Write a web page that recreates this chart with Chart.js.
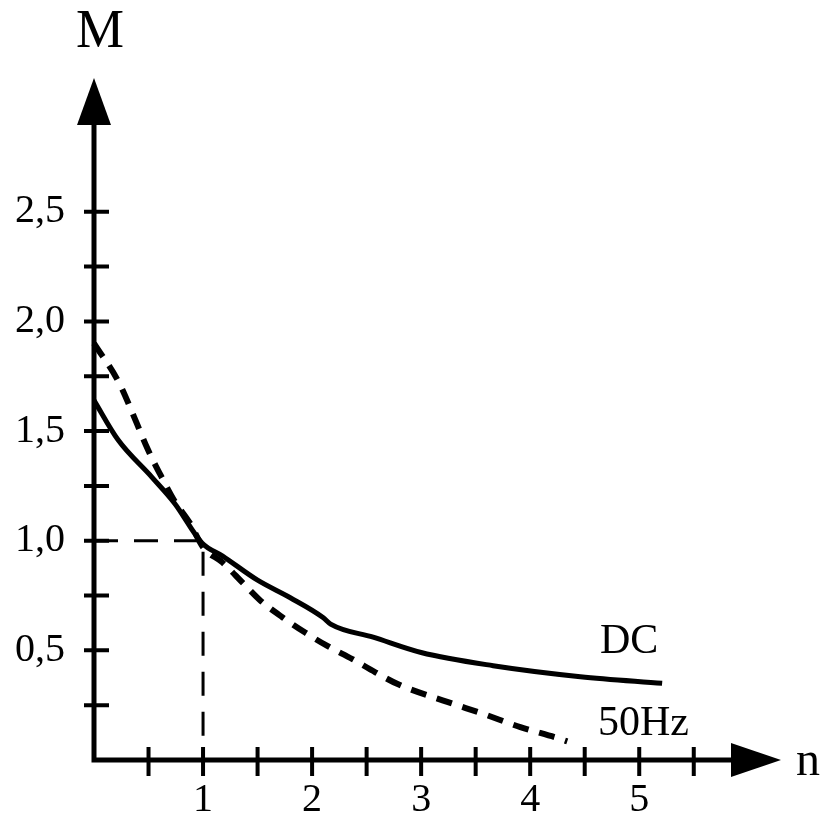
<!DOCTYPE html>
<html>
<head>
<meta charset="utf-8">
<script src="https://cdn.jsdelivr.net/npm/chart.js@4.4.0/dist/chart.umd.min.js"></script>
<style>
  html, body { margin: 0; padding: 0; background: #fff; }
  #wrap { width: 823px; height: 814px; position: relative; }
</style>
</head>
<body>
<div id="wrap"><canvas id="grafico"></canvas></div>
<script>
// Curva DC (linha cheia)
const nDC = [0, 0.22, 0.53, 0.74, 0.99, 1.18, 1.5, 1.8, 2.1, 2.17, 2.56, 3.0, 3.66, 4.46, 5.21];
const mDC = [1.64, 1.46, 1.29, 1.17, 0.99, 0.93, 0.82, 0.74, 0.65, 0.62, 0.56, 0.49, 0.43, 0.38, 0.35];

// Curva 50Hz (tracejada)
const n50 = [0, 0.23, 0.38, 0.49, 0.62, 0.74, 0.88, 1.0, 1.18, 1.36, 1.52, 1.73, 1.94, 2.14, 2.37, 2.58, 2.79, 3.24, 3.57, 3.91, 4.25, 4.34];
const m50 = [1.90, 1.72, 1.55, 1.42, 1.29, 1.18, 1.08, 0.97, 0.90, 0.81, 0.73, 0.65, 0.58, 0.52, 0.46, 0.40, 0.345, 0.265, 0.21, 0.15, 0.10, 0.085];

// Linha guia em n = 1, M = 1
const guideN = [0, 1, 1];
const guideM = [1, 1, 0];

// Rótulos e marcas dos eixos
const xTickValues = [1, 2, 3, 4, 5];
const xTickLabels = ['1', '2', '3', '4', '5'];
const yTickValues = [0.5, 1, 1.5, 2, 2.5];
const yTickLabels = ['0,5', '1,0', '1,5', '2,0', '2,5'];
const xMarks = [0.5, 1, 1.5, 2, 2.5, 3, 3.5, 4, 4.5, 5, 5.5];
const yMarks = [0.25, 0.5, 0.75, 1, 1.25, 1.5, 1.75, 2, 2.25, 2.5];

const toPoints = (xs, ys) => xs.map((v, i) => ({ x: v, y: ys[i] }));

Chart.defaults.font.family = "'Liberation Serif', serif";
Chart.defaults.color = '#000';

// Desenha eixos com setas, marcas e textos
const axesPlugin = {
    id: 'axes',
    afterDatasetsDraw(chart) {
        const { ctx, chartArea: a, scales: { x, y } } = chart;
        const x0 = x.getPixelForValue(0);
        const y0 = y.getPixelForValue(0);
        ctx.save();
        ctx.strokeStyle = '#000';
        ctx.fillStyle = '#000';
        ctx.lineCap = 'butt';

        ctx.lineWidth = 5;
        ctx.beginPath();
        ctx.moveTo(x0, y0 + 2.5);
        ctx.lineTo(x0, a.top + 40);
        ctx.moveTo(x0 - 2.5, y0);
        ctx.lineTo(a.right - 40, y0);
        ctx.stroke();

        ctx.beginPath();
        ctx.moveTo(x0, a.top);
        ctx.lineTo(x0 - 17, a.top + 47);
        ctx.lineTo(x0 + 17, a.top + 47);
        ctx.closePath();
        ctx.fill();

        ctx.beginPath();
        ctx.moveTo(a.right, y0);
        ctx.lineTo(a.right - 50, y0 - 17);
        ctx.lineTo(a.right - 50, y0 + 17);
        ctx.closePath();
        ctx.fill();

        ctx.lineWidth = 4;
        ctx.beginPath();
        for (const v of yMarks) {
            const py = y.getPixelForValue(v);
            ctx.moveTo(x0 - 10, py);
            ctx.lineTo(x0 + 15, py);
        }
        for (const v of xMarks) {
            const px = x.getPixelForValue(v);
            ctx.moveTo(px, y0 - 13);
            ctx.lineTo(px, y0 + 16);
        }
        ctx.stroke();

        ctx.textBaseline = 'alphabetic';
        ctx.textAlign = 'center';
        ctx.font = "54px 'Liberation Serif'";
        ctx.fillText('M', x0 + 6, 47);
        ctx.textAlign = 'left';
        ctx.font = "48px 'Liberation Serif'";
        ctx.fillText('n', a.right + 15, 775);
        ctx.font = "42px 'Liberation Serif'";
        ctx.fillText('DC', 600, 653);
        ctx.fillText('50Hz', 598, 735);
        ctx.restore();
    }
};

new Chart(document.getElementById('grafico'), {
    type: 'scatter',
    data: {
        datasets: [
            {
                label: 'DC',
                data: toPoints(nDC, mDC),
                showLine: true,
                borderColor: '#000',
                borderWidth: 5,
                cubicInterpolationMode: 'monotone',
                pointRadius: 0,
                clip: false
            },
            {
                label: '50Hz',
                data: toPoints(n50, m50),
                showLine: true,
                borderColor: '#000',
                borderWidth: 6,
                borderDash: [16, 11],
                cubicInterpolationMode: 'monotone',
                pointRadius: 0,
                clip: false
            },
            {
                label: 'guia',
                data: toPoints(guideN, guideM),
                showLine: true,
                borderColor: '#000',
                borderWidth: 3,
                borderDash: [24, 16],
                pointRadius: 0,
                clip: false
            }
        ]
    },
    options: {
        responsive: true,
        maintainAspectRatio: false,
        animation: false,
        layout: { padding: { top: 78, right: 42, left: 0, bottom: 0 } },
        plugins: {
            legend: { display: false },
            tooltip: { enabled: false }
        },
        scales: {
            x: {
                type: 'linear',
                min: 0,
                max: 6.3,
                border: { display: false },
                grid: { display: false, drawTicks: false },
                afterBuildTicks: (scale) => { scale.ticks = xTickValues.map(v => ({ value: v })); },
                afterFit: (scale) => { scale.height = 54; },
                ticks: {
                    autoSkip: false,
                    maxRotation: 0,
                    padding: 16,
                    font: { size: 40 },
                    callback: (v, i) => xTickLabels[i]
                }
            },
            y: {
                type: 'linear',
                min: 0,
                max: 3.11,
                border: { display: false },
                grid: { display: false, drawTicks: false },
                afterBuildTicks: (scale) => { scale.ticks = yTickValues.map(v => ({ value: v })); },
                afterFit: (scale) => { scale.width = 94; },
                ticks: {
                    autoSkip: false,
                    padding: 29,
                    font: { size: 40 },
                    callback: (v, i) => yTickLabels[i]
                }
            }
        }
    },
    plugins: [axesPlugin]
});
</script>
</body>
</html>
